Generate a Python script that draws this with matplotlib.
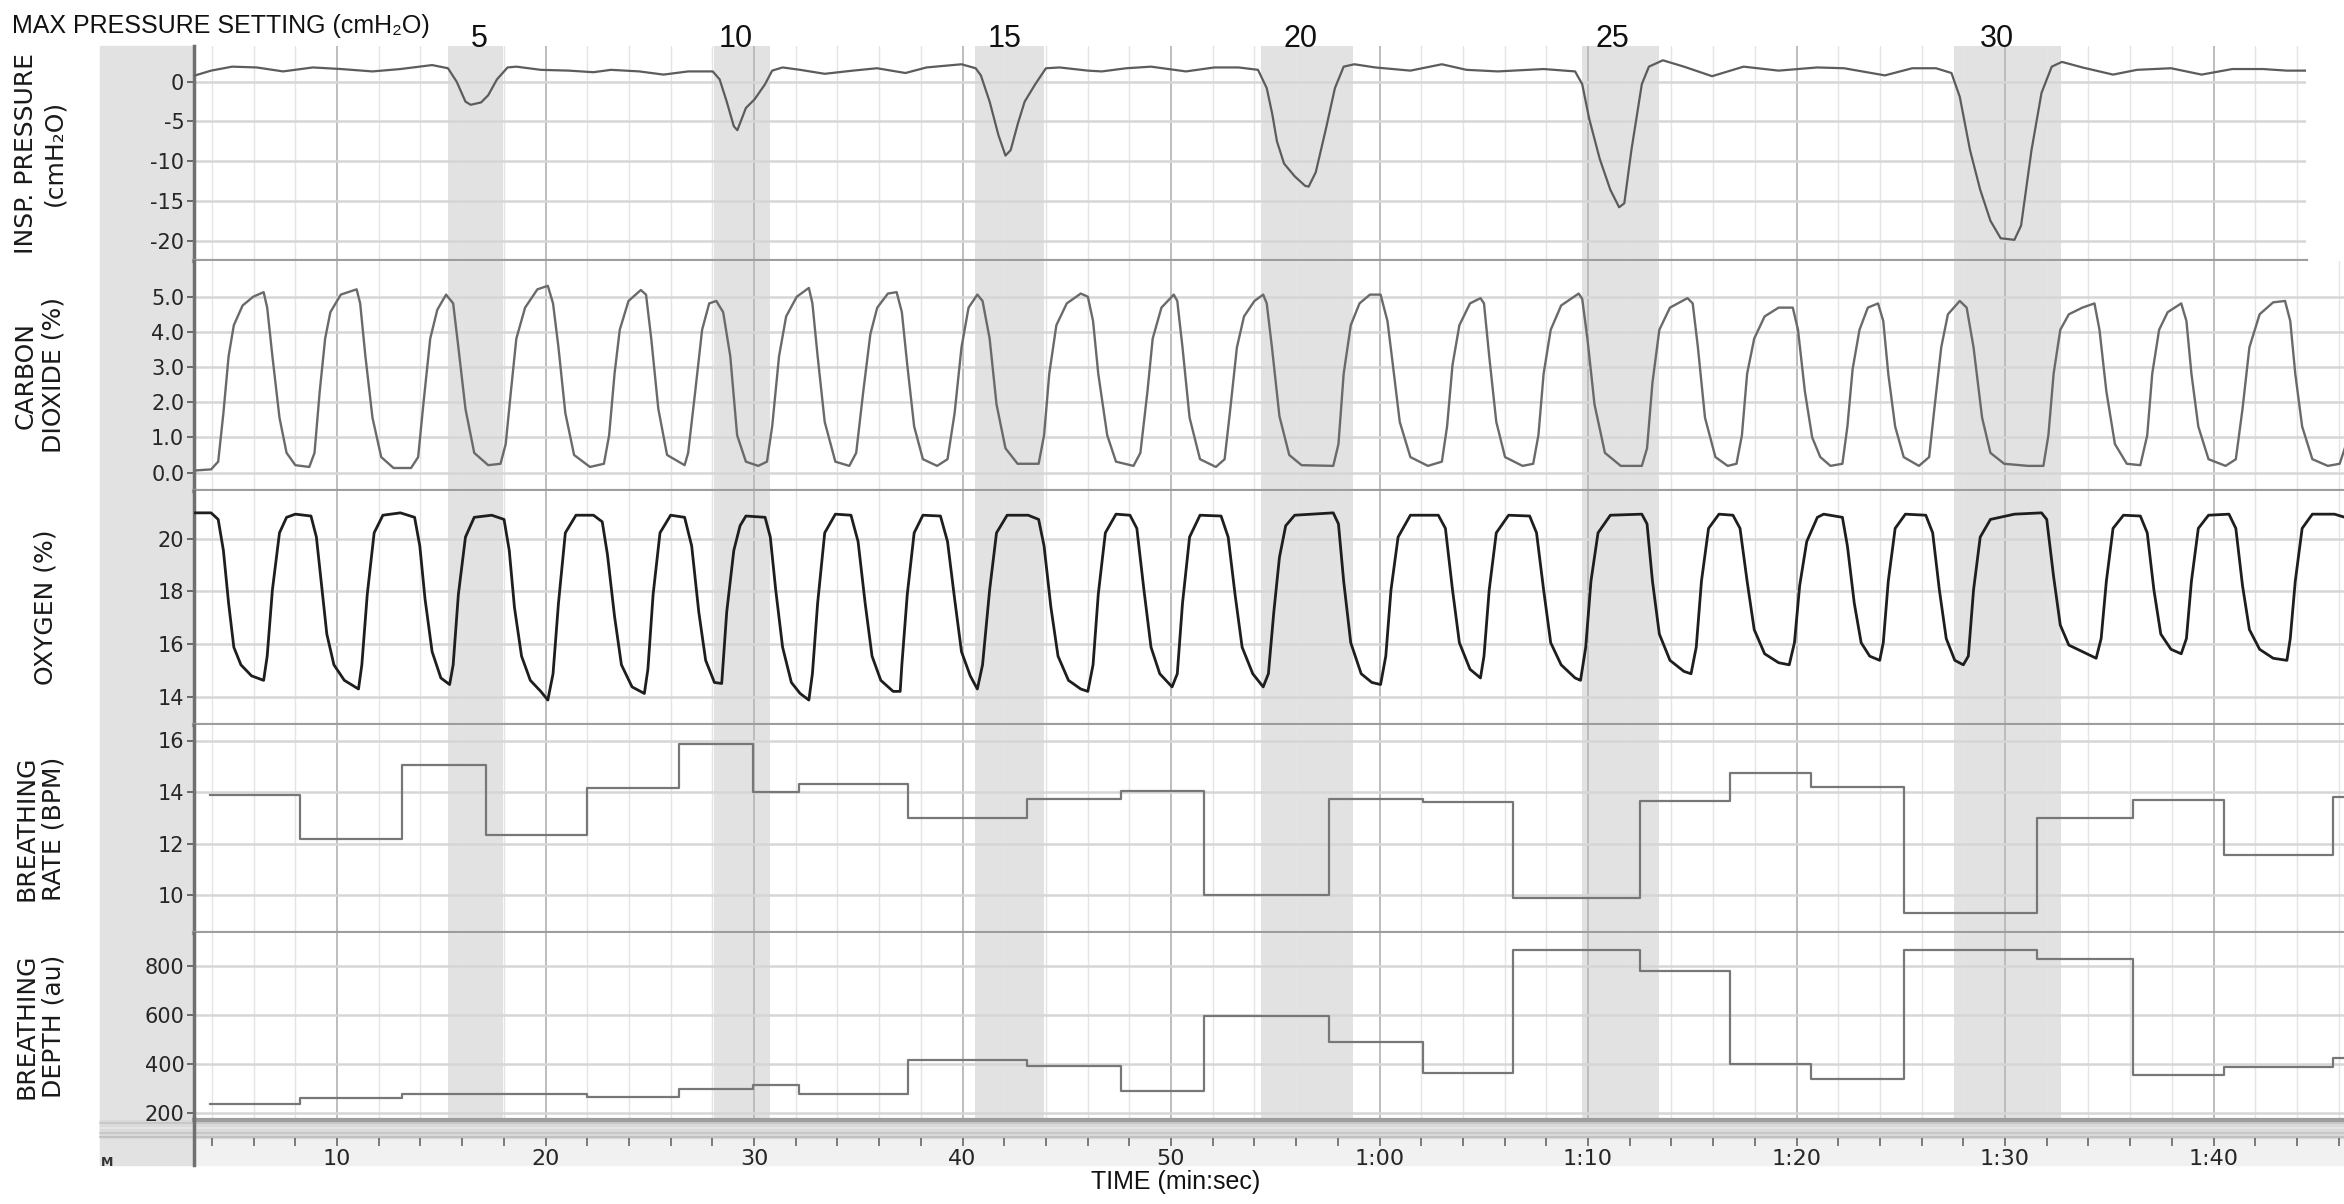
import matplotlib
matplotlib.use("Agg")
import matplotlib.pyplot as plt
from matplotlib.lines import Line2D
from matplotlib.patches import Rectangle
from matplotlib.ticker import MultipleLocator, FixedLocator, FuncFormatter

# ---------------- data (time in seconds) ----------------
pressure_settings = [5, 10, 15, 20, 25, 30]
band_start = [15.3, 28.1, 40.6, 54.3, 69.7, 87.55]
band_end = [17.95, 30.75, 43.9, 58.75, 73.4, 92.7]
setting_label_t = [16.8, 29.1, 42.0, 56.2, 71.15, 89.6]

# inspiratory pressure (cmH2O)
pressure_trace = [
    (3.2, 0.8), (3.96, 1.4), (4.97, 1.9), (6.15, 1.8), (7.41, 1.3), (8.84, 1.8), (10.19, 1.6),
    (11.7, 1.3), (13.04, 1.6), (14.56, 2.1), (15.32, 1.7), (15.74, 0.0), (16.16, -2.5),
    (16.41, -2.9), (16.91, -2.6), (17.25, -1.7), (17.67, 0.3), (18.18, 1.8), (18.6, 1.9),
    (19.77, 1.5), (21.12, 1.4), (22.3, 1.2), (23.14, 1.5), (24.5, 1.3), (25.66, 0.9),
    (26.84, 1.3), (28.02, 1.3), (28.35, 0.3), (28.69, -2.5), (29.03, -5.6), (29.2, -6.1),
    (29.61, -3.3), (30.03, -2.2), (30.53, -0.3), (30.87, 1.4), (31.37, 1.8), (32.21, 1.5),
    (33.39, 1.0), (34.74, 1.4), (35.9, 1.7), (37.26, 1.1), (38.27, 1.8), (39.95, 2.2),
    (40.63, 1.7), (40.88, 0.8), (41.3, -2.5), (41.72, -6.7), (42.06, -9.3), (42.31, -8.6),
    (42.65, -5.3), (42.98, -2.5), (43.49, -0.3), (44.0, 1.7), (44.66, 1.8), (46.01, 1.4),
    (46.68, 1.3), (47.86, 1.7), (49.04, 1.9), (50.72, 1.3), (52.07, 1.8), (53.24, 1.8),
    (54.17, 1.5), (54.59, -0.8), (54.85, -4.0), (55.08, -7.5), (55.42, -10.3), (55.93, -11.9),
    (56.43, -13.1), (56.6, -13.2), (56.94, -11.4), (57.44, -5.8), (57.86, -0.8), (58.28, 1.9),
    (58.79, 2.2), (59.8, 1.8), (61.48, 1.4), (62.99, 2.2), (64.17, 1.5), (65.68, 1.3),
    (67.87, 1.6), (69.38, 1.3), (69.72, -0.3), (70.06, -4.7), (70.56, -9.7), (71.07, -13.6),
    (71.49, -15.8), (71.74, -15.3), (72.08, -8.6), (72.58, -0.3), (72.92, 1.9), (73.59, 2.7),
    (74.6, 1.9), (75.95, 0.7), (77.46, 1.9), (79.14, 1.4), (80.99, 1.8), (82.28, 1.7),
    (84.24, 0.8), (85.55, 1.7), (86.69, 1.7), (87.43, 1.1), (87.83, -1.9), (88.32, -8.6),
    (88.81, -13.6), (89.3, -17.5), (89.79, -19.7), (90.45, -19.9), (90.77, -18.1),
    (91.27, -8.6), (91.75, -1.4), (92.24, 1.9), (92.73, 2.5), (93.71, 1.8), (95.18, 0.9),
    (96.33, 1.5), (97.96, 1.7), (99.43, 0.9), (100.9, 1.6), (102.37, 1.6), (103.52, 1.4),
    (104.4, 1.4),
]

# carbon dioxide (%)
co2_trace = [
    (3.2, 0.06), (3.96, 0.09), (4.3, 0.31), (4.55, 1.69), (4.8, 3.31), (5.05, 4.19), (5.47, 4.75),
    (5.98, 5.0), (6.48, 5.13), (6.65, 4.69), (6.9, 3.31), (7.24, 1.56), (7.58, 0.56), (8.0, 0.21),
    (8.67, 0.16), (8.92, 0.56), (9.17, 2.31), (9.43, 3.81), (9.68, 4.56), (10.18, 5.06),
    (10.94, 5.21), (11.11, 4.81), (11.36, 3.31), (11.7, 1.56), (12.12, 0.44), (12.71, 0.13),
    (13.55, 0.13), (13.89, 0.44), (14.14, 1.94), (14.47, 3.81), (14.81, 4.63), (15.23, 5.06),
    (15.57, 4.81), (15.82, 3.56), (16.16, 1.81), (16.58, 0.56), (17.25, 0.21), (17.84, 0.25),
    (18.09, 0.81), (18.34, 2.31), (18.6, 3.81), (19.02, 4.69), (19.61, 5.21), (20.11, 5.31),
    (20.36, 4.81), (20.62, 3.56), (20.95, 1.69), (21.37, 0.5), (22.13, 0.16), (22.8, 0.25),
    (23.05, 1.06), (23.31, 2.81), (23.56, 4.06), (23.98, 4.88), (24.57, 5.19), (24.82, 5.06),
    (25.07, 3.81), (25.41, 1.81), (25.83, 0.5), (26.67, 0.21), (26.84, 0.56), (27.18, 2.31),
    (27.51, 4.06), (27.85, 4.81), (28.19, 4.88), (28.52, 4.56), (28.86, 3.31), (29.19, 1.06),
    (29.61, 0.31), (30.2, 0.19), (30.62, 0.31), (30.87, 1.31), (31.2, 3.31), (31.54, 4.44),
    (32.05, 5.0), (32.63, 5.25), (32.8, 4.81), (33.05, 3.31), (33.39, 1.44), (33.9, 0.31),
    (34.57, 0.19), (34.9, 0.56), (35.24, 2.31), (35.58, 3.94), (35.91, 4.69), (36.42, 5.09),
    (36.84, 5.13), (37.09, 4.56), (37.35, 3.06), (37.68, 1.31), (38.1, 0.38), (38.78, 0.19),
    (39.28, 0.38), (39.62, 1.69), (39.95, 3.56), (40.29, 4.69), (40.71, 5.06), (40.96, 4.88),
    (41.3, 3.81), (41.63, 1.94), (42.06, 0.69), (42.64, 0.25), (43.65, 0.25), (43.91, 1.06),
    (44.16, 2.81), (44.5, 4.19), (45.0, 4.81), (45.67, 5.09), (46.01, 5.0), (46.26, 4.31),
    (46.51, 2.81), (46.94, 1.06), (47.36, 0.31), (48.2, 0.19), (48.53, 0.56), (48.87, 2.31),
    (49.12, 3.81), (49.54, 4.69), (50.13, 5.06), (50.3, 4.88), (50.55, 3.56), (50.89, 1.56),
    (51.39, 0.38), (52.15, 0.16), (52.57, 0.38), (52.82, 1.69), (53.16, 3.56), (53.5, 4.44),
    (54.0, 4.88), (54.42, 5.06), (54.59, 4.81), (54.84, 3.56), (55.2, 1.6), (55.67, 0.5),
    (56.26, 0.21), (57.78, 0.19), (58.03, 0.81), (58.28, 2.81), (58.62, 4.19), (59.04, 4.81),
    (59.54, 5.06), (60.05, 5.06), (60.38, 4.31), (60.64, 3.06), (60.97, 1.44), (61.48, 0.44),
    (62.32, 0.19), (62.99, 0.31), (63.24, 1.31), (63.5, 3.06), (63.83, 4.19), (64.34, 4.81),
    (64.84, 4.96), (65.01, 4.81), (65.26, 3.31), (65.6, 1.44), (66.02, 0.44), (66.86, 0.19),
    (67.37, 0.25), (67.62, 1.06), (67.87, 2.81), (68.21, 4.06), (68.71, 4.75), (69.55, 5.09),
    (69.72, 4.94), (69.97, 3.81), (70.31, 1.94), (70.81, 0.56), (71.57, 0.19), (72.58, 0.19),
    (72.83, 0.69), (73.09, 2.56), (73.42, 4.06), (73.93, 4.69), (74.77, 4.96), (75.02, 4.81),
    (75.27, 3.56), (75.61, 1.56), (76.11, 0.44), (76.7, 0.19), (77.12, 0.25), (77.38, 1.06),
    (77.63, 2.81), (77.97, 3.81), (78.47, 4.44), (79.14, 4.69), (79.82, 4.69), (80.07, 4.06),
    (80.4, 2.31), (80.75, 1.0), (81.14, 0.44), (81.63, 0.19), (82.2, 0.25), (82.44, 1.31),
    (82.69, 2.94), (83.02, 4.06), (83.42, 4.69), (83.91, 4.81), (84.16, 4.31), (84.4, 2.81),
    (84.73, 1.31), (85.14, 0.44), (85.87, 0.19), (86.36, 0.44), (86.61, 1.81), (86.94, 3.56),
    (87.26, 4.5), (87.83, 4.88), (88.16, 4.69), (88.49, 3.56), (88.9, 1.56), (89.3, 0.56),
    (89.96, 0.25), (91.1, 0.19), (91.84, 0.19), (92.08, 1.06), (92.33, 2.81), (92.65, 4.06),
    (93.06, 4.5), (93.71, 4.69), (94.29, 4.81), (94.53, 4.06), (94.86, 2.31), (95.27, 0.81),
    (95.84, 0.25), (96.49, 0.21), (96.82, 1.06), (97.06, 2.81), (97.39, 4.06), (97.8, 4.56),
    (98.45, 4.81), (98.7, 4.31), (98.94, 2.81), (99.27, 1.31), (99.76, 0.38), (100.58, 0.19),
    (101.07, 0.38), (101.39, 1.81), (101.72, 3.56), (102.21, 4.5), (102.86, 4.84),
    (103.43, 4.88), (103.68, 4.31), (103.92, 2.81), (104.25, 1.31), (104.74, 0.38),
    (105.48, 0.19), (106.05, 0.25), (106.3, 0.7),
]

# oxygen (%)
o2_trace = [
    (3.2, 20.99), (3.96, 20.99), (4.3, 20.74), (4.55, 19.56), (4.8, 17.55), (5.05, 15.88),
    (5.39, 15.21), (5.9, 14.79), (6.48, 14.62), (6.65, 15.54), (6.9, 18.06), (7.24, 20.23),
    (7.58, 20.82), (8.0, 20.94), (8.75, 20.87), (9.01, 20.07), (9.26, 18.22), (9.51, 16.38),
    (9.85, 15.21), (10.35, 14.62), (11.03, 14.29), (11.19, 15.21), (11.45, 17.89), (11.78, 20.23),
    (12.2, 20.9), (13.04, 20.99), (13.72, 20.82), (13.97, 19.73), (14.22, 17.72), (14.56, 15.71),
    (14.98, 14.71), (15.4, 14.46), (15.57, 15.21), (15.82, 17.89), (16.16, 20.07), (16.58, 20.82),
    (17.42, 20.9), (18.01, 20.74), (18.26, 19.56), (18.51, 17.39), (18.85, 15.54), (19.27, 14.62),
    (19.77, 14.2), (20.11, 13.87), (20.36, 14.87), (20.62, 17.55), (20.95, 20.23), (21.46, 20.9),
    (22.3, 20.9), (22.72, 20.65), (22.97, 19.4), (23.31, 17.05), (23.64, 15.21), (24.15, 14.37),
    (24.74, 14.12), (24.91, 15.04), (25.16, 17.89), (25.49, 20.23), (26.0, 20.9), (26.67, 20.82),
    (27.01, 19.73), (27.35, 17.22), (27.68, 15.38), (28.1, 14.54), (28.45, 14.5), (28.69, 17.22),
    (29.03, 19.56), (29.33, 20.5), (29.61, 20.87), (30.53, 20.82), (30.78, 20.07), (31.04, 18.06),
    (31.37, 15.88), (31.79, 14.54), (32.21, 14.12), (32.63, 13.87), (32.8, 14.87), (33.05, 17.55),
    (33.39, 20.23), (33.9, 20.94), (34.65, 20.9), (34.99, 19.9), (35.33, 17.55), (35.66, 15.54),
    (36.08, 14.62), (36.67, 14.2), (37.01, 14.2), (37.09, 15.21), (37.35, 17.89), (37.68, 20.23),
    (38.1, 20.9), (38.94, 20.87), (39.28, 19.9), (39.62, 17.72), (39.95, 15.71), (40.37, 14.79),
    (40.71, 14.29), (40.96, 15.21), (41.3, 18.06), (41.63, 20.23), (42.14, 20.9), (43.15, 20.9),
    (43.65, 20.74), (43.91, 19.73), (44.24, 17.39), (44.58, 15.54), (45.08, 14.62), (45.67, 14.29),
    (46.01, 14.2), (46.26, 15.21), (46.51, 17.89), (46.85, 20.23), (47.36, 20.94), (48.03, 20.9),
    (48.36, 20.4), (48.7, 18.06), (49.04, 15.88), (49.46, 14.87), (50.05, 14.37), (50.3, 14.87),
    (50.55, 17.55), (50.89, 20.07), (51.39, 20.9), (52.4, 20.87), (52.74, 20.07), (53.07, 17.89),
    (53.41, 15.88), (53.92, 14.87), (54.42, 14.37), (54.67, 14.87), (54.93, 17.22), (55.2, 19.3),
    (55.5, 20.5), (55.93, 20.9), (57.78, 20.99), (58.03, 20.57), (58.28, 18.39), (58.62, 16.05),
    (59.12, 14.87), (59.63, 14.54), (60.05, 14.46), (60.3, 15.54), (60.55, 18.06), (60.89, 20.07),
    (61.48, 20.9), (62.82, 20.9), (63.16, 20.4), (63.5, 18.06), (63.83, 16.05), (64.34, 15.04),
    (64.84, 14.71), (65.01, 15.54), (65.26, 18.06), (65.6, 20.23), (66.19, 20.9), (67.2, 20.87),
    (67.53, 20.23), (67.87, 18.06), (68.21, 16.05), (68.71, 15.21), (69.38, 14.71), (69.64, 14.62),
    (69.89, 15.88), (70.14, 18.39), (70.48, 20.23), (71.07, 20.9), (72.58, 20.94), (72.83, 20.57),
    (73.09, 18.39), (73.42, 16.38), (73.93, 15.38), (74.6, 14.96), (74.94, 14.87), (75.19, 15.88),
    (75.44, 18.39), (75.78, 20.4), (76.28, 20.94), (76.95, 20.9), (77.29, 20.4), (77.63, 18.39),
    (77.97, 16.55), (78.47, 15.63), (79.14, 15.29), (79.65, 15.21), (79.9, 16.05), (80.15, 18.22),
    (80.49, 19.9), (81.0, 20.82), (81.3, 20.94), (82.2, 20.82), (82.44, 19.73), (82.77, 17.55),
    (83.1, 16.05), (83.51, 15.54), (83.99, 15.38), (84.16, 16.05), (84.4, 18.39), (84.73, 20.4),
    (85.22, 20.94), (86.2, 20.9), (86.53, 20.23), (86.85, 18.06), (87.18, 16.21), (87.59, 15.38),
    (88.0, 15.21), (88.24, 15.54), (88.49, 18.06), (88.81, 20.07), (89.3, 20.74), (90.45, 20.94),
    (91.75, 20.99), (92.0, 20.74), (92.33, 18.56), (92.65, 16.72), (93.06, 15.96), (93.71, 15.71),
    (94.37, 15.46), (94.61, 16.21), (94.86, 18.39), (95.18, 20.4), (95.68, 20.9), (96.49, 20.87),
    (96.82, 20.23), (97.14, 18.06), (97.47, 16.38), (97.96, 15.8), (98.45, 15.63), (98.7, 16.21),
    (98.94, 18.39), (99.27, 20.4), (99.76, 20.9), (100.74, 20.94), (101.07, 20.4), (101.39, 18.22),
    (101.72, 16.55), (102.21, 15.8), (102.86, 15.46), (103.52, 15.38), (103.68, 16.21),
    (103.92, 18.39), (104.25, 20.4), (104.74, 20.94), (105.8, 20.94), (106.3, 20.82),
]

# breath-by-breath analysis windows
segment_start = [3.9, 8.2, 13.1, 17.15, 22.0, 26.4, 29.95, 32.15, 37.4, 43.1, 47.6, 51.6,
                 57.6, 62.1, 66.4, 72.5, 76.8, 80.7, 85.16, 91.52, 96.12, 100.52, 105.75]
segment_end = 106.3
breath_rate = [13.9, 12.2, 15.05, 12.35, 14.15, 15.85, 14.0, 14.3, 13.0, 13.75, 14.05, 10.0,
               13.75, 13.6, 9.9, 13.65, 14.75, 14.2, 9.3, 13.0, 13.7, 11.55, 13.8]
breath_depth = [234, 259, 277, 277, 266, 296, 314, 275, 416, 392, 288, 595,
                490, 362, 866, 780, 398, 336, 866, 830, 356, 386, 424]

# ---------------- layout (pixels of the 2344 x 1204 output) ----------------
W, H, DPI = 2344, 1204, 100
AX_LEFT = 194
PX_PER_S = 20.85
T0 = 3.14


def frac(x0, y0, x1, y1):
    return [x0 / W, 1 - y1 / H, (x1 - x0) / W, (y1 - y0) / H]


def t_at(px):
    return T0 + (px - AX_LEFT) / PX_PER_S


label_font = ["Liberation Sans", "DejaVu Sans"]

fig = plt.figure(figsize=(W / DPI, H / DPI), dpi=DPI)
fig.patch.set_facecolor("white")

# gray label column, scroll strip and time strip
fig.add_artist(Rectangle((100 / W, 1 - 1165 / H), (AX_LEFT - 100) / W, (1165 - 46) / H,
                         transform=fig.transFigure, color="#e2e2e2", zorder=0))
fig.add_artist(Rectangle((AX_LEFT / W, 1 - 1165 / H), 1 - AX_LEFT / W, 27 / H,
                         transform=fig.transFigure, color="#f1f1f1", zorder=0))
fig.add_artist(Rectangle((100 / W, 1 - 1138 / H), 1 - 100 / W, 18 / H,
                         transform=fig.transFigure, color="#dadada", zorder=0))
for yy, c in [(1123, "#c4c4c4"), (1128, "#e8e8e8"), (1133, "#c4c4c4"), (1137, "#bdbdbd")]:
    fig.add_artist(Line2D([100 / W, 1], [1 - yy / H] * 2, transform=fig.transFigure,
                          color=c, lw=1.2, zorder=1))
fig.add_artist(Line2D([AX_LEFT / W] * 2, [1 - 1165 / H, 1 - 1118 / H], transform=fig.transFigure,
                      color="#707070", lw=2.5, zorder=2))

panels = [
    dict(top=46, bottom=260.5, right=2306, ylim=(-22.5, 4.5), ticks=[0, -5, -10, -15, -20],
         fmt="{:.0f}", label="INSP. PRESSURE\n(cmH\u2082O)", lx=40),
    dict(top=260.5, bottom=490.5, right=W, ylim=(-0.51, 6.03), ticks=[0, 1, 2, 3, 4, 5],
         fmt="{:.1f}", label="CARBON\nDIOXIDE (%)", lx=40),
    dict(top=490.5, bottom=724.5, right=W, ylim=(12.94, 21.84), ticks=[14, 16, 18, 20],
         fmt="{:.0f}", label="OXYGEN (%)", lx=46),
    dict(top=724.5, bottom=932.5, right=W, ylim=(8.56, 16.62), ticks=[10, 12, 14, 16],
         fmt="{:.0f}", label="BREATHING\nRATE (BPM)", lx=40),
    dict(top=932.5, bottom=1120, right=W, ylim=(170, 938), ticks=[200, 400, 600, 800],
         fmt="{:.0f}", label="BREATHING\nDEPTH (au)", lx=40),
]

axes = []
for p in panels:
    ax = fig.add_axes(frac(AX_LEFT, p["top"], p["right"], p["bottom"]))
    ax.set_xlim(T0, t_at(p["right"]))
    ax.set_ylim(*p["ylim"])
    ax.set_axisbelow(True)
    ax.xaxis.set_major_locator(MultipleLocator(10))
    ax.xaxis.set_minor_locator(MultipleLocator(2))
    ax.yaxis.set_major_locator(FixedLocator(p["ticks"]))
    ax.yaxis.set_major_formatter(FuncFormatter(lambda v, pos, f=p["fmt"]: f.format(v)))
    ax.grid(which="minor", axis="x", color="#e4e4e4", lw=1.0)
    ax.grid(which="major", axis="x", color="#b8b8b8", lw=1.3)
    ax.grid(which="major", axis="y", color="#d6d6d6", lw=1.8)
    ax.tick_params(axis="x", which="both", length=0, labelbottom=False)
    ax.tick_params(axis="y", which="major", direction="out", length=5, width=1.2, color="#555555",
                   labelsize=15, labelcolor="#262626", pad=2)
    for s in ("top", "right"):
        ax.spines[s].set_visible(False)
    ax.spines["left"].set_color("#707070")
    ax.spines["left"].set_linewidth(2.5)
    ax.spines["bottom"].set_color("#9d9d9d")
    ax.spines["bottom"].set_linewidth(3)
    for b0, b1 in zip(band_start, band_end):
        ax.axvspan(b0, b1, color="#d9d9d9", alpha=0.75, lw=0, zorder=0.3)
    fig.text(p["lx"] / W, 1 - (p["top"] + p["bottom"]) / 2 / H, p["label"], rotation=90,
             ha="center", va="center", multialignment="center", fontsize=18,
             color="#1a1a1a", linespacing=1.2)
    axes.append(ax)

ax_p, ax_c, ax_o, ax_r, ax_d = axes

t, v = zip(*pressure_trace)
ax_p.plot(t, v, color="#5c5c5c", lw=1.6, zorder=3)
t, v = zip(*co2_trace)
ax_c.plot(t, v, color="#6a6a6a", lw=1.7, zorder=3)
t, v = zip(*o2_trace)
ax_o.plot(t, v, color="#1e1e1e", lw=2.0, zorder=3)
ax_r.step(segment_start + [segment_end], breath_rate + [breath_rate[-1]], where="post",
          color="#777777", lw=1.6, zorder=3)
ax_d.step(segment_start + [segment_end], breath_depth + [breath_depth[-1]], where="post",
          color="#777777", lw=1.6, zorder=3)

# pressure setting labels above the shaded bands
for tx, ps in zip(setting_label_t, pressure_settings):
    ax_p.text(tx, (260.5 - 39) / (260.5 - 46), str(ps), transform=ax_p.get_xaxis_transform(),
              ha="center", va="center", fontsize=22, family=label_font, color="#111111",
              clip_on=False)

# time axis
ax_t = fig.add_axes(frac(AX_LEFT, 1138, W, 1146))
ax_t.set_xlim(T0, t_at(W))
ax_t.patch.set_visible(False)
for s in ax_t.spines.values():
    s.set_visible(False)
ax_t.set_yticks([])
ax_t.xaxis.set_major_locator(FixedLocator(list(range(10, 101, 10))))
ax_t.xaxis.set_minor_locator(MultipleLocator(2))
ax_t.xaxis.set_major_formatter(FuncFormatter(
    lambda s, pos: f"{int(round(s))}" if s < 60 else f"{int(round(s)) // 60}:{int(round(s)) % 60:02d}"))
ax_t.tick_params(axis="x", which="both", top=True, bottom=False, labeltop=False, labelbottom=True,
                 direction="in", length=6, width=1.2, color="#666666", labelsize=16,
                 labelcolor="#262626", pad=2)

fig.text(12 / W, 1 - 26 / H, "MAX PRESSURE SETTING (cmH\u2082O)", ha="left", va="center",
         fontsize=18, family=label_font, color="#111111")
fig.text(1176 / W, 1 - 1182 / H, "TIME (min:sec)", ha="center", va="center",
         fontsize=18, family=label_font, color="#111111")
fig.text(107 / W, 1 - 1162 / H, "M", ha="center", va="center", fontsize=9, fontweight="bold",
         color="#333333")

fig.savefig("out.png", dpi=DPI, facecolor="white")
